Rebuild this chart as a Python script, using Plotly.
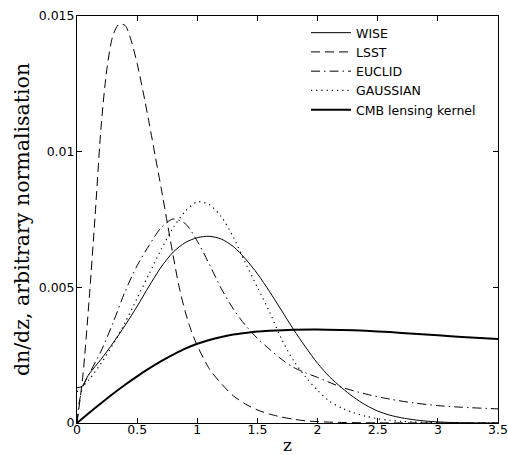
import plotly.graph_objects as go

# redshift grids and curves (values in units of 1e-3)
z_wise = [0, 0.04, 0.1, 0.2, 0.3, 0.4, 0.5, 0.6, 0.7, 0.8, 0.9, 1.0, 1.1, 1.2, 1.3, 1.4,
          1.5, 1.6, 1.7, 1.8, 1.9, 2.0, 2.1, 2.2, 2.3, 2.4, 2.5, 2.6, 2.7, 2.8, 2.9, 3.0,
          3.1, 3.2, 3.3, 3.5]
wise = [1.3, 1.35, 1.8, 2.35, 2.95, 3.6, 4.3, 5.05, 5.75, 6.3, 6.65, 6.83, 6.88, 6.78, 6.5, 6.05,
        5.5, 4.85, 4.15, 3.45, 2.8, 2.2, 1.7, 1.3, 0.95, 0.66, 0.44, 0.29, 0.19, 0.12, 0.07, 0.04,
        0.02, 0.01, 0.005, 0.0]

z_lsst = [0, 0.05, 0.1, 0.15, 0.2, 0.25, 0.3, 0.35, 0.4, 0.45, 0.5, 0.55, 0.6, 0.65, 0.7, 0.75,
          0.8, 0.85, 0.9, 0.95, 1.0, 1.1, 1.2, 1.3, 1.4, 1.5, 1.6, 1.7, 1.8, 1.9, 2.0, 2.2, 2.5,
          3.0, 3.5]
lsst = [0.0, 1.8, 4.5, 7.6, 10.9, 13.1, 14.3, 14.7, 14.65, 14.1, 13.25, 12.2, 11.05, 9.85, 8.65, 7.4,
        6.15, 5.0, 4.1, 3.4, 2.85, 2.0, 1.45, 1.0, 0.7, 0.48, 0.33, 0.22, 0.14, 0.08, 0.05, 0.02, 0.005,
        0.0, 0.0]

z_euclid = [0, 0.02, 0.05, 0.1, 0.2, 0.3, 0.4, 0.5, 0.6, 0.7, 0.8, 0.9, 1.0, 1.1, 1.2, 1.3, 1.4,
            1.5, 1.6, 1.7, 1.8, 1.9, 2.0, 2.2, 2.4, 2.6, 2.8, 3.0, 3.2, 3.5]
euclid = [0.0, 0.8, 1.35, 1.8, 2.65, 3.7, 4.85, 5.8, 6.55, 7.2, 7.52, 7.35, 6.7, 5.85, 4.95, 4.2, 3.6,
          3.12, 2.72, 2.35, 2.05, 1.85, 1.68, 1.32, 1.07, 0.88, 0.74, 0.64, 0.58, 0.52]

z_gauss = [0, 0.1, 0.2, 0.3, 0.4, 0.5, 0.6, 0.7, 0.8, 0.9, 1.0, 1.1, 1.2, 1.3, 1.4, 1.5, 1.6,
           1.7, 1.8, 1.9, 2.0, 2.1, 2.2, 2.3, 2.4, 2.5, 2.6, 2.7, 2.8, 2.9, 3.0, 3.5]
gauss = [1.15, 1.6, 2.2, 2.9, 3.7, 4.6, 5.5, 6.4, 7.2, 7.8, 8.15, 8.05, 7.6, 6.85, 5.9, 5.0, 4.1,
         3.1, 2.3, 1.7, 1.2, 0.8, 0.55, 0.38, 0.25, 0.16, 0.1, 0.06, 0.035, 0.02, 0.01, 0.0]

z_cmb = [0, 0.1, 0.2, 0.3, 0.4, 0.5, 0.6, 0.7, 0.8, 0.9, 1.0, 1.1, 1.2, 1.3, 1.4, 1.5, 1.6, 1.8,
         2.0, 2.2, 2.4, 2.6, 2.8, 3.0, 3.2, 3.5]
cmb = [0.0, 0.37, 0.73, 1.08, 1.41, 1.72, 2.01, 2.28, 2.52, 2.74, 2.92, 3.06, 3.17, 3.26, 3.32, 3.37,
       3.40, 3.44, 3.45, 3.43, 3.40, 3.35, 3.29, 3.23, 3.17, 3.10]

x_ticks = [0, 0.5, 1, 1.5, 2, 2.5, 3, 3.5]
x_ticklabels = ["0", "0.5", "1", "1.5", "2", "2.5", "3", "3.5"]
y_ticks = [0, 0.005, 0.01, 0.015]
y_ticklabels = ["0", "0.005", "0.01", "0.015"]

series = [
    ("WISE", z_wise, wise, 1, "solid"),
    ("LSST", z_lsst, lsst, 1, "9px,5px"),
    ("EUCLID", z_euclid, euclid, 1, "9px,4px,1.5px,4px"),
    ("GAUSSIAN", z_gauss, gauss, 1.2, "1.2px,4px"),
    ("CMB lensing kernel", z_cmb, cmb, 2, "solid"),
]

fig = go.Figure()
for name, zs, vals, w, dash in series:
    fig.add_trace(go.Scatter(
        x=zs, y=[v * 1e-3 for v in vals], name=name, mode="lines",
        line=dict(color="black", width=w, dash=dash, shape="spline", smoothing=0.8),
    ))

sans = "DejaVu Sans, Liberation Sans, Arial, sans-serif"
axis_common = dict(
    showline=True, linecolor="black", linewidth=1, mirror="ticks",
    ticks="inside", ticklen=5, tickcolor="black", tickwidth=1,
    showgrid=False, zeroline=False, automargin=False,
    tickfont=dict(family=sans, size=12.5, color="black"),
)

fig.update_layout(
    width=508, height=455,
    margin=dict(l=77, r=10, t=16, b=32),
    paper_bgcolor="white", plot_bgcolor="white",
    showlegend=True,
    legend=dict(
        x=0.544, y=0.995, xanchor="left", yanchor="top",
        bgcolor="rgba(255,255,255,0)", borderwidth=0,
        font=dict(family=sans, size=12.5, color="black"),
        itemwidth=40, tracegroupgap=0,
    ),
    xaxis=dict(
        range=[0, 3.5], tickvals=x_ticks, ticktext=x_ticklabels,
        ticklabelstandoff=-5,
        title=dict(text="z", font=dict(family="DejaVu Serif, serif", size=17, color="black"), standoff=19),
        **axis_common,
    ),
    yaxis=dict(
        range=[0, 0.015], tickvals=y_ticks, ticktext=y_ticklabels,
        ticklabelstandoff=-1,
        title=dict(text="dn/dz, arbitrary normalisation",
                   font=dict(family="DejaVu Serif, serif", size=20.5, color="black"), standoff=3),
        **axis_common,
    ),
)

fig.write_html("out.html", config={"displayModeBar": False},
               post_script="document.body.style.margin='0';document.body.style.overflow='hidden';")
